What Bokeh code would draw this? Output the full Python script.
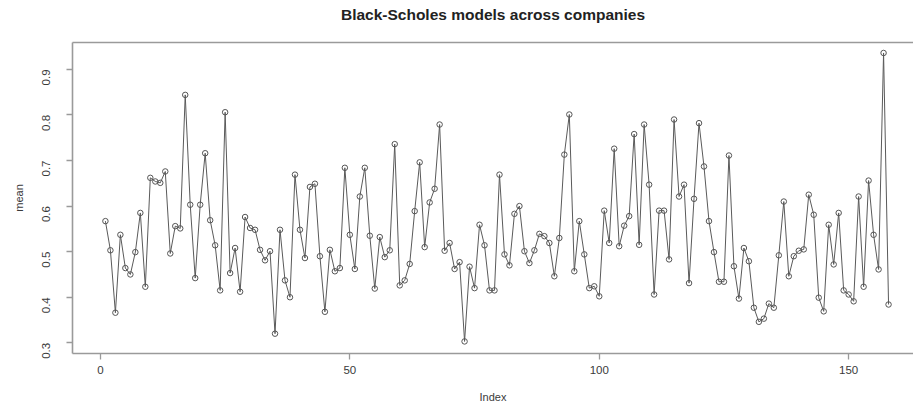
import math
from bokeh.plotting import figure
from bokeh.models import FixedTicker, LinearAxis, Range1d, ColumnDataSource
from bokeh.embed import file_html
from bokeh.resources import INLINE

index = list(range(1, 159))
mean = [0.567, 0.503, 0.366, 0.537, 0.464, 0.450, 0.499, 0.585, 0.423, 0.662,
        0.654, 0.651, 0.676, 0.496, 0.556, 0.551, 0.844, 0.603, 0.442, 0.603,
        0.716, 0.569, 0.514, 0.415, 0.806, 0.453, 0.508, 0.412, 0.576, 0.552,
        0.548, 0.504, 0.481, 0.501, 0.320, 0.548, 0.437, 0.400, 0.669, 0.548,
        0.486, 0.642, 0.649, 0.490, 0.368, 0.504, 0.457, 0.464, 0.684, 0.537,
        0.462, 0.621, 0.684, 0.535, 0.419, 0.532, 0.488, 0.503, 0.736, 0.426,
        0.437, 0.473, 0.589, 0.696, 0.510, 0.608, 0.638, 0.779, 0.502, 0.519,
        0.462, 0.477, 0.303, 0.467, 0.420, 0.559, 0.514, 0.415, 0.415, 0.669,
        0.494, 0.470, 0.583, 0.600, 0.501, 0.475, 0.503, 0.539, 0.534, 0.519,
        0.446, 0.530, 0.713, 0.801, 0.457, 0.567, 0.494, 0.420, 0.424, 0.402,
        0.590, 0.519, 0.726, 0.512, 0.557, 0.578, 0.758, 0.515, 0.779, 0.647,
        0.406, 0.590, 0.590, 0.483, 0.790, 0.621, 0.647, 0.431, 0.616, 0.782,
        0.687, 0.567, 0.499, 0.434, 0.434, 0.711, 0.468, 0.397, 0.508, 0.479,
        0.377, 0.346, 0.353, 0.386, 0.377, 0.492, 0.610, 0.446, 0.490, 0.502,
        0.505, 0.625, 0.581, 0.399, 0.369, 0.559, 0.472, 0.585, 0.415, 0.406,
        0.391, 0.621, 0.423, 0.656, 0.537, 0.461, 0.936, 0.384]

x_ticks = [0, 50, 100, 150]
y_ticks = [0.3, 0.4, 0.5, 0.6, 0.7, 0.8, 0.9]
title_text = "Black-Scholes models across companies"

FONT = "Liberation Sans"
TEXT = "#3a3a3a"
BOX = "#9a9a9a"

src = ColumnDataSource(dict(x=index, y=mean))

p = figure(width=913, height=405, output_backend="svg", toolbar_location=None,
           x_range=Range1d(-5.6, 163.0), y_range=Range1d(0.2765, 0.959),
           min_border_left=72, min_border_right=0, min_border_top=42, min_border_bottom=52)
p.outline_line_color = None
p.grid.visible = False
p.background_fill_color = "white"
p.border_fill_color = "white"

p.line("x", "y", source=src, line_color="#5a5a5a", line_width=1)
p.scatter("x", "y", source=src, marker="circle", size=5.5, fill_color=None,
          line_color="#555555", line_width=1)

for ax in (p.xaxis[0], p.yaxis[0]):
    ax.axis_line_color = BOX
    ax.axis_line_width = 1.6
    ax.major_tick_line_color = BOX
    ax.major_tick_line_width = 1.3
    ax.major_tick_out = 6
    ax.major_tick_in = 0
    ax.minor_tick_line_color = None
    ax.major_label_text_font = FONT
    ax.major_label_text_font_size = "11.5px"
    ax.major_label_text_color = TEXT
    ax.axis_label_text_font = FONT
    ax.axis_label_text_font_size = "11px"
    ax.axis_label_text_font_style = "normal"
    ax.axis_label_text_color = TEXT

p.xaxis[0].ticker = FixedTicker(ticks=x_ticks)
p.xaxis[0].axis_label = "Index"
p.xaxis[0].major_label_standoff = 6
p.xaxis[0].axis_label_standoff = 14

p.yaxis[0].ticker = FixedTicker(ticks=y_ticks)
p.yaxis[0].axis_label = "mean"
p.yaxis[0].major_label_orientation = math.pi / 2
p.yaxis[0].major_label_standoff = 20
p.yaxis[0].axis_label_standoff = 11

# top border of the box, carrying the chart title as its label
top = LinearAxis(ticker=FixedTicker(ticks=[]), axis_line_color=BOX, axis_line_width=1.6,
                 major_tick_line_color=None, minor_tick_line_color=None, major_tick_out=0,
                 major_label_text_font_size="0px", major_label_standoff=0,
                 axis_label=title_text, axis_label_text_font=FONT,
                 axis_label_text_font_style="bold", axis_label_text_font_size="15.5px",
                 axis_label_text_color="#222222", axis_label_standoff=20)
p.add_layout(top, "above")

open("out.html", "w").write(file_html(p, INLINE))
